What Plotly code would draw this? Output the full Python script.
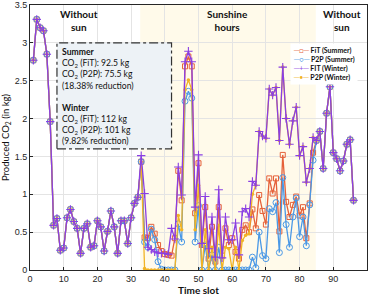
import plotly.graph_objects as go

# ---------------- data ----------------
slots = list(range(1, 97))

# slots 1-32 : no sun, all four scenarios identical
night_am = [2.77, 3.31, 3.20, 3.16, 2.85, 1.96, 0.59, 0.68, 0.26, 0.29, 0.69, 0.80,
            0.64, 0.55, 0.22, 0.55, 0.61, 0.30, 0.32, 0.65, 0.57, 0.25, 0.51, 0.78,
            0.57, 0.22, 0.65, 0.65, 0.35, 0.69, 0.88, 0.96]
# slots 85-96 : no sun, all four scenarios identical
night_pm = [1.71, 1.83, 1.34, 2.07, 2.42, 1.55, 1.47, 1.31, 1.44, 1.66, 1.72, 0.92]

# slots 33-84 (sunshine hours)
fit_summer_day = [1.43, 0.43, 0.42, 0.57, 0.48, 0.33, 0.25, 0.21, 0.20, 0.19, 0.42, 1.31,
                  0.92, 2.69, 2.82, 2.69, 0.75, 1.41, 0.33, 0.83, 0.15, 0.57, 0.11, 0.83,
                  0.19, 0.55, 0.33, 0.42, 0.24, 0.15, 0.53, 0.59, 0.50, 0.80, 0.55, 0.99,
                  0.78, 0.60, 1.21, 1.01, 1.21, 0.51, 1.52, 0.90, 0.70, 0.86, 0.97, 0.72,
                  0.83, 0.42, 0.88, 1.55]
p2p_summer_day = [1.43, 0.37, 0.30, 0.54, 0.40, 0.11, 0.01, 0.00, 0.00, 0.00, 0.00, 0.61,
                  0.37, 2.23, 2.36, 2.27, 0.37, 0.85, 0.00, 0.33, 0.00, 0.20, 0.00, 0.30,
                  0.00, 0.00, 0.00, 0.00, 0.00, 0.00, 0.00, 0.00, 0.00, 0.17, 0.03, 0.50,
                  0.19, 0.15, 0.81, 0.77, 0.89, 0.23, 1.22, 0.60, 0.30, 0.70, 0.95, 0.44,
                  0.70, 0.32, 0.86, 1.45]
fit_winter_day = [1.51, 1.01, 0.30, 0.27, 0.24, 0.225, 0.22, 0.22, 0.21, 0.55, 0.41, 1.36,
                  0.99, 2.75, 2.89, 2.75, 0.83, 1.52, 0.35, 0.97, 0.28, 0.70, 0.17, 1.06,
                  0.16, 0.70, 0.40, 0.40, 0.62, 0.20, 0.77, 0.81, 0.70, 1.17, 1.12, 1.83,
                  1.77, 1.74, 2.39, 2.31, 2.41, 1.71, 2.68, 2.00, 1.66, 1.97, 2.15, 1.51,
                  1.63, 1.16, 1.34, 1.75]
p2p_winter_day = [1.43, 0.02, 0.00, 0.00, 0.00, 0.00, 0.00, 0.00, 0.00, 0.00, 0.00, 0.72,
                  0.53, 2.38, 2.51, 2.38, 0.53, 1.12, 0.00, 0.53, 0.00, 0.30, 0.00, 0.59,
                  0.00, 0.30, 0.28, 0.00, 0.30, 0.00, 0.39, 0.46, 0.48, 1.00, 1.12, 1.83,
                  1.77, 1.74, 2.39, 2.31, 2.41, 1.71, 2.68, 2.00, 1.66, 1.97, 2.15, 1.51,
                  1.63, 1.16, 1.34, 1.75]

series_names = ["FiT (Summer)", "P2P (Summer)", "FIT (Winter)", "P2P (Winter)"]
summary_lines = ["Summer", "CO<sub>2</sub> (FiT): 92.5 kg", "CO<sub>2</sub> (P2P): 75.5 kg",
                 "(18.38% reduction)", " ", "Winter", "CO<sub>2</sub> (FiT): 112 kg",
                 "CO<sub>2</sub> (P2P): 101 kg", "(9.82% reduction)"]

fit_summer = night_am + fit_summer_day + night_pm
p2p_summer = night_am + p2p_summer_day + night_pm
fit_winter = night_am + fit_winter_day + night_pm
p2p_winter = night_am + p2p_winter_day + night_pm

# ---------------- styling ----------------
c_fs, c_ps, c_fw, c_pw = "#E5613A", "#4A98E6", "#8A3FE3", "#F1B324"
FONT = "Lato"

fig = go.Figure()
fig.add_trace(go.Scatter(x=slots, y=fit_summer, mode="lines+markers", name=series_names[0],
                         line=dict(color=c_fs, width=1.3),
                         marker=dict(symbol="square-open", size=5, color=c_fs, line=dict(width=1))))
fig.add_trace(go.Scatter(x=slots, y=p2p_summer, mode="lines+markers", name=series_names[1],
                         line=dict(color=c_ps, width=1.3),
                         marker=dict(symbol="circle-open", size=6, color=c_ps, line=dict(width=1))))
fig.add_trace(go.Scatter(x=slots, y=p2p_winter, mode="lines+markers", name=series_names[3],
                         line=dict(color=c_pw, width=1.3),
                         marker=dict(symbol="circle", size=3.5, color=c_pw)))
fig.add_trace(go.Scatter(x=slots, y=fit_winter, mode="lines+markers", name=series_names[2],
                         line=dict(color=c_fw, width=1.3),
                         marker=dict(symbol="cross-thin-open", size=6, color=c_fw, line=dict(width=1.1, color=c_fw))))

# sunshine shading
fig.add_shape(type="rect", xref="x", yref="y", x0=32.7, x1=84.8, y0=0, y1=3.5,
              fillcolor="#FFFAEA", line=dict(width=0), layer="below")
# summary box
fig.add_shape(type="rect", xref="x", yref="y", x0=8, x1=42, y0=1.6, y1=3.0,
              fillcolor="#EDF2F6", line=dict(color="#333333", width=1.2, dash="dashdot"), layer="above")

summary = "<br>".join(("<b>%s</b>" % s) if s in ("Summer", "Winter") else s for s in summary_lines)
anns = [
    dict(x=9, y=2.975, xref="x", yref="y", text=summary, showarrow=False, xanchor="left",
         yanchor="top", align="left", font=dict(family=FONT, size=8.6, color="#111111")),
    dict(x=14.5, y=3.29, xref="x", yref="y", text="<b>Without<br>sun</b>", showarrow=False,
         font=dict(family=FONT, size=10, color="#111111")),
    dict(x=58.5, y=3.29, xref="x", yref="y", text="<b>Sunshine<br>hours</b>", showarrow=False,
         font=dict(family=FONT, size=10, color="#111111")),
    dict(x=92.7, y=3.29, xref="x", yref="y", text="<b>Without<br>sun</b>", showarrow=False,
         font=dict(family=FONT, size=10, color="#111111")),
]

glyphs = [("─□─", c_fs), ("─○─", c_ps), ("─+─", c_fw), ("─•─", c_pw)]
leg_lines = []
for (g, c), name in zip(glyphs, series_names):
    leg_lines.append("<span style='color:%s'>%s</span> <b>%s</b>" % (c, g, name))
anns.append(dict(x=97.3, y=3.0, xref="x", yref="y", text="<br>".join(leg_lines), showarrow=False,
                 xanchor="right", yanchor="top", align="left", bgcolor="white", borderpad=2,
                 font=dict(family=FONT, size=7, color="#111111")))

axis_common = dict(showgrid=True, gridcolor="#E4E4E4", gridwidth=1, zeroline=False,
                   showline=True, mirror=True, linecolor="#262626", linewidth=1,
                   ticks="inside", ticklen=3, tickcolor="#262626",
                   tickfont=dict(family="Liberation Sans", size=9, color="#262626"),
                   automargin=False)

fig.update_layout(
    width=374, height=296,
    margin=dict(l=30, r=7, t=5, b=26),
    paper_bgcolor="white", plot_bgcolor="white",
    showlegend=False,
    annotations=anns,
    xaxis=dict(range=[0, 100], dtick=10, tick0=0,
               title=dict(text="<b>Time slot</b>", standoff=1,
                          font=dict(family=FONT, size=10, color="#111111")),
               **axis_common),
    yaxis=dict(range=[0, 3.5], dtick=0.5, tick0=0,
               title=dict(text="Produced CO<sub>2</sub> (in kg)", standoff=3,
                          font=dict(family=FONT, size=9.5, color="#111111")),
               **axis_common),
)

fig.write_html("out.html", config={"displayModeBar": False},
               post_script="document.body.style.margin='0';")
